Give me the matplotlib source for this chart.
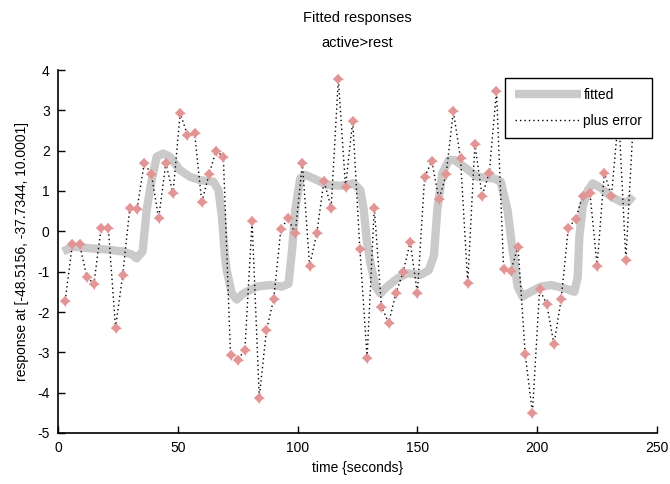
import matplotlib
matplotlib.use("Agg")
import matplotlib.pyplot as plt

# observed data (time in seconds, response)
scan_t = [3, 6, 9, 12, 15, 18, 21, 24, 27, 30, 33, 36, 39, 42, 45, 48, 51, 54, 57, 60,
          63, 66, 69, 72, 75, 78, 81, 84, 87, 90, 93, 96, 99, 102, 105, 108, 111, 114, 117, 120,
          123, 126, 129, 132, 135, 138, 141, 144, 147, 150, 153, 156, 159, 162, 165, 168, 171, 174, 177, 180,
          183, 186, 189, 192, 195, 198, 201, 204, 207, 210, 213, 216, 219, 222, 225, 228, 231, 234, 237, 240]
plus_error = [-1.72, -0.32, -0.32, -1.12, -1.30, 0.09, 0.09, -2.39, -1.08, 0.59,
              0.55, 1.70, 1.41, 0.32, 1.69, 0.94, 2.93, 2.39, 2.45, 0.72,
              1.41, 2.00, 1.85, -3.07, -3.19, -2.94, 0.26, -4.12, -2.45, -1.69,
              0.05, 0.32, -0.05, 1.69, -0.86, -0.05, 1.25, 0.59, 3.77, 1.11,
              2.73, -0.45, -3.13, 0.59, -1.87, -2.27, -1.54, -1.02, -0.27, -1.54,
              1.34, 1.74, 0.79, 1.41, 2.98, 1.81, -1.29, 2.16, 0.88, 1.45,
              3.48, -0.93, -0.98, -0.38, -3.05, -4.50, -1.44, -1.81, -2.80, -1.69,
              0.09, 0.30, 0.88, 0.96, -0.86, 1.45, 0.88, 2.90, -0.70, 2.60]

# fitted response
fit_t = [2.1, 6.3, 13.3, 20.2, 27.2, 31.0, 32.8, 35.3, 37.0, 39.1, 41.2, 43.9, 46.7, 50.9, 55.1,
         59.3, 64.9, 67.0, 68.4, 69.7, 70.4, 72.5, 74.6, 77.4, 83.0, 88.6, 93.5, 96.2, 97.7, 99.0,
         101.1, 103.2, 106.7, 112.3, 117.9, 123.4, 126.2, 127.6, 129.0, 130.4, 132.5, 134.6, 137.4, 141.6, 145.8,
         151.3, 154.8, 156.9, 158.3, 160.4, 163.2, 165.3, 169.5, 175.0, 182.0, 184.8, 187.6, 189.7, 190.4, 191.8,
         193.9, 196.0, 201.6, 205.7, 211.3, 215.5, 216.9, 217.6, 219.0, 221.1, 223.2, 226.7, 230.9, 235.1, 237.9, 240.0]
fit_y = [-0.50, -0.38, -0.42, -0.45, -0.50, -0.58, -0.67, -0.50, 0.53, 1.27, 1.85, 1.93, 1.85, 1.52, 1.35,
         1.27, 1.23, 1.02, 0.36, -0.63, -0.96, -1.54, -1.69, -1.54, -1.37, -1.33, -1.37, -1.30, -0.46, 0.53,
         1.31, 1.40, 1.31, 1.15, 1.13, 1.19, 1.02, 0.53, -0.30, -0.79, -1.37, -1.54, -1.37, -1.17, -1.04,
         -1.08, -0.96, -0.60, 0.53, 1.44, 1.77, 1.77, 1.60, 1.35, 1.31, 1.23, 0.53, -0.46, -0.71, -1.37,
         -1.62, -1.54, -1.37, -1.33, -1.41, -1.50, -1.13, -0.13, 0.61, 1.02, 1.19, 1.07, 0.86, 0.73, 0.73, 0.88]

x_ticks = [0, 50, 100, 150, 200, 250]
y_ticks = [-5, -4, -3, -2, -1, 0, 1, 2, 3, 4]

plt.rcParams['font.family'] = ['Liberation Sans', 'DejaVu Sans']
plt.rcParams['axes.unicode_minus'] = False
fig = plt.figure(figsize=(6.7, 4.84), dpi=100)
ax = fig.add_axes([58 / 670, 51 / 484, 599 / 670, 363 / 484])

ax.plot(fit_t, fit_y, color='#cacaca', linewidth=6, solid_capstyle='butt',
        solid_joinstyle='round', label='fitted', zorder=2)
ax.plot(scan_t, plus_error, color='black', linestyle=(0, (1, 2.2)), linewidth=1.0,
        label='plus error', zorder=3)
ax.plot(scan_t, plus_error, linestyle='none', marker='D', markersize=5,
        color='#e39494', markeredgewidth=0, zorder=4)
ax.plot(scan_t, plus_error, linestyle='none', marker='+', markersize=6.5,
        color='#e39494', markeredgewidth=0.9, zorder=4)

ax.set_xlim(0, 250)
ax.set_ylim(-5, 4)
ax.set_xticks(x_ticks)
ax.set_yticks(y_ticks)
ax.tick_params(direction='in', length=5, width=1, labelsize=10, pad=6)
for s in ['top', 'right']:
    ax.spines[s].set_visible(False)
for s in ['left', 'bottom']:
    ax.spines[s].set_linewidth(1.2)

ax.set_xlabel('time {seconds}', fontsize=10, labelpad=4)
ax.set_ylabel('response at [-48.5156, -37.7344, 10.0001]', fontsize=10, labelpad=6)

fig.text(357 / 670, 1 - 18 / 484, 'Fitted responses', ha='center', va='center', fontsize=10.5)
fig.text(357 / 670, 1 - 43 / 484, 'active>rest', ha='center', va='center', fontsize=10.5)

leg = ax.legend(loc='upper right', bbox_to_anchor=(0.992, 0.978), borderaxespad=0,
                fancybox=False, edgecolor='black', framealpha=1, fontsize=10,
                handlelength=4.8, handletextpad=0.15, borderpad=0.7, labelspacing=0.9)
leg.get_frame().set_linewidth(1.0)

fig.savefig('out.png', dpi=100)
